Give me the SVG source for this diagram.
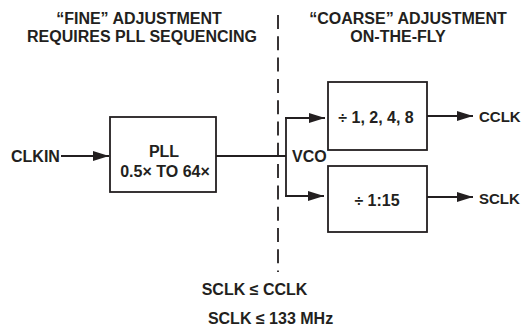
<svg xmlns="http://www.w3.org/2000/svg" width="522" height="327" viewBox="0 0 522 327">
<style>
text{font-family:"Liberation Sans",Arial,sans-serif;font-weight:bold;font-size:16px;fill:#231f20}
.m{text-anchor:middle}
.s{font-size:15px}
.box{fill:#fff;stroke:#231f20;stroke-width:1.8}
.ln{fill:none;stroke:#231f20;stroke-width:1.8}
.dash{fill:none;stroke:#231f20;stroke-width:1.8;stroke-dasharray:14 7.3}
</style>
<defs>
<marker id="ah" viewBox="0 0 16 10" refX="16" refY="5" markerWidth="16" markerHeight="10" markerUnits="userSpaceOnUse" orient="auto">
<path d="M0,0 L16,5 L0,10 z" fill="#231f20"/>
</marker>
</defs>
<rect width="522" height="327" fill="#fff"/>
<g id="headings">
<text class="m" x="139" y="24">“FINE” ADJUSTMENT</text>
<text class="m" x="142" y="42">REQUIRES PLL SEQUENCING</text>
<text class="m" x="408" y="24">“COARSE” ADJUSTMENT</text>
<text class="m" x="398" y="42">ON-THE-FLY</text>
</g>
<g id="divider">
<line class="dash" x1="278" y1="15" x2="278" y2="272"/>
</g>
<g id="connectors">
<line class="ln" x1="61" y1="156" x2="109" y2="156" marker-end="url(#ah)"/>
<line class="ln" x1="216" y1="156" x2="286" y2="156"/>
<line class="ln" x1="286" y1="117.1" x2="286" y2="196.9"/>
<line class="ln" x1="285.1" y1="118" x2="325" y2="118" marker-end="url(#ah)"/>
<line class="ln" x1="285.1" y1="196" x2="324" y2="196" marker-end="url(#ah)"/>
<line class="ln" x1="427" y1="116" x2="473" y2="116" marker-end="url(#ah)"/>
<line class="ln" x1="427" y1="197" x2="473" y2="197" marker-end="url(#ah)"/>
</g>
<g id="clkin">
<text x="11" y="161.5">CLKIN</text>
</g>
<g id="pll">
<rect class="box" x="110" y="117" width="106" height="75"/>
<text class="m" x="164" y="156.5">PLL</text>
<text class="m" x="165" y="176.5">0.5× TO 64×</text>
</g>
<g id="vco">
<text x="292" y="161.5">VCO</text>
</g>
<g id="cdiv">
<rect class="box" x="328" y="82" width="99" height="68"/>
<text class="m" x="376" y="122.5">÷ 1, 2, 4, 8</text>
</g>
<g id="sdiv">
<rect class="box" x="328" y="166" width="99" height="66"/>
<text class="m" x="377" y="206">÷ 1:15</text>
</g>
<g id="cclk">
<text class="s" x="479" y="122">CCLK</text>
</g>
<g id="sclk">
<text class="s" x="479" y="204">SCLK</text>
</g>
<g id="notes">
<text class="m" x="254.5" y="295">SCLK ≤ CCLK</text>
<text class="m" x="270.5" y="324">SCLK ≤ 133 MHz</text>
</g>
</svg>
